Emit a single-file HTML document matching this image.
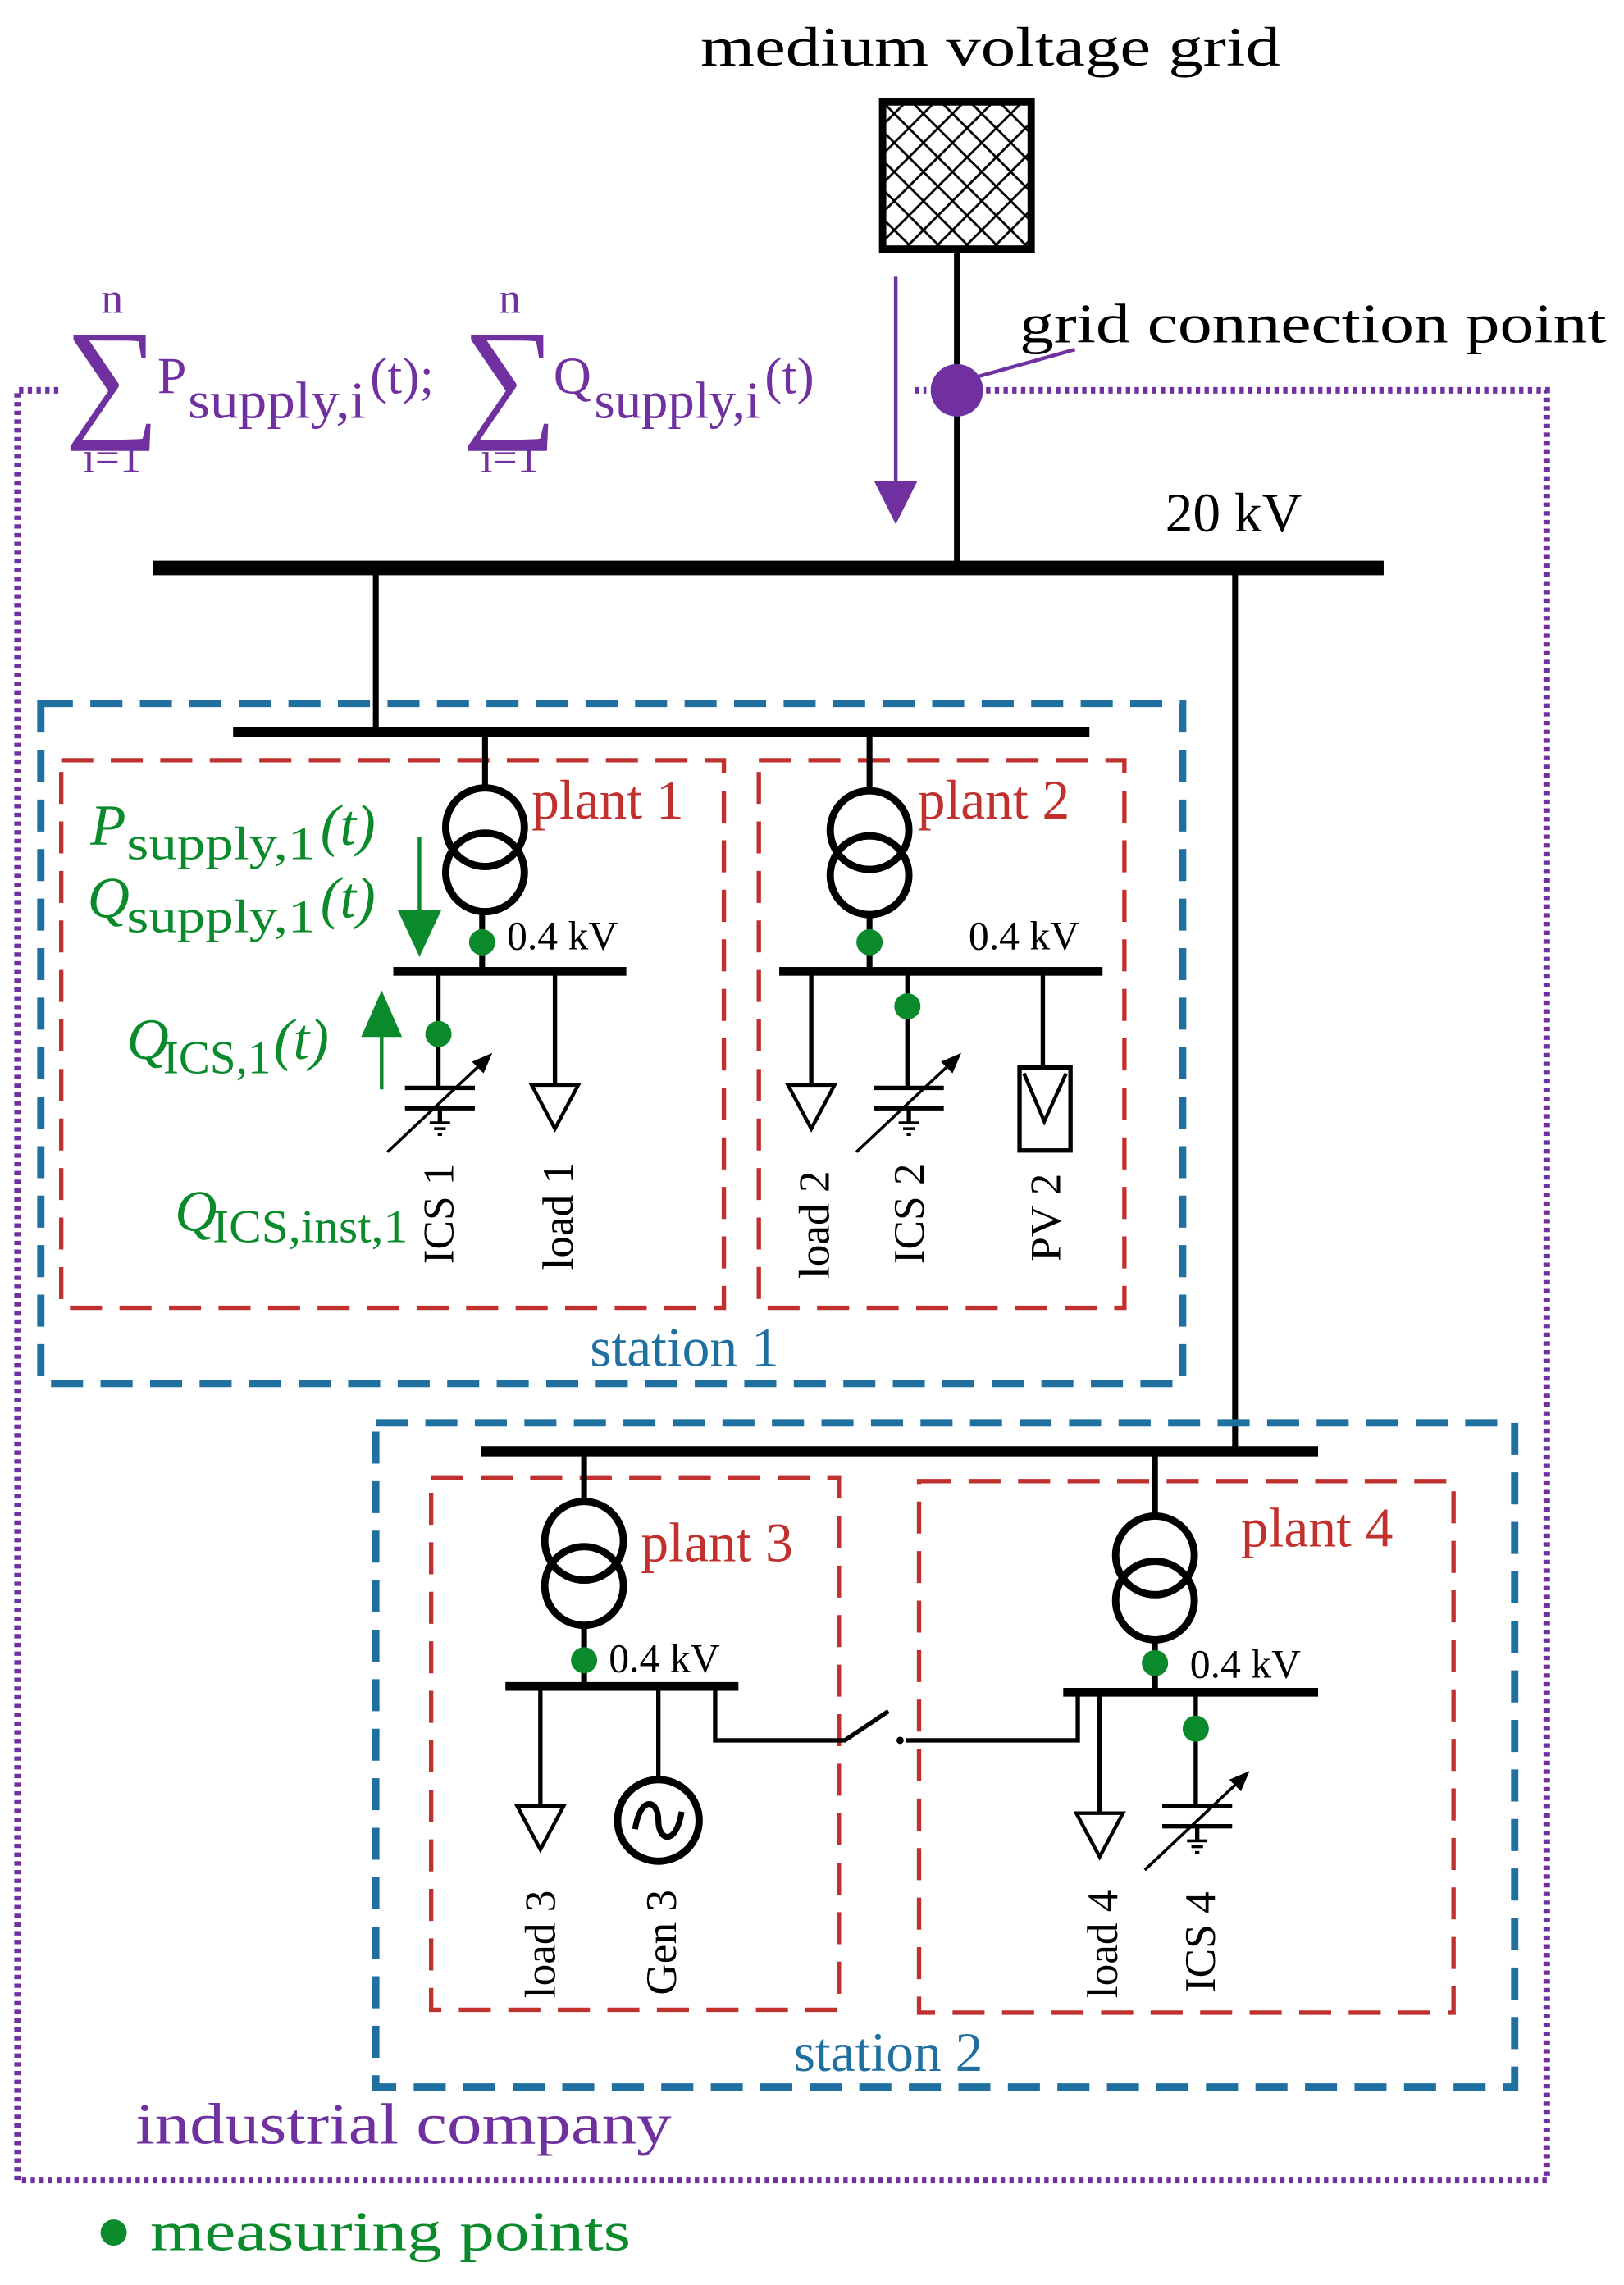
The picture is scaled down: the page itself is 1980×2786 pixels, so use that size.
<!DOCTYPE html>
<html><head><meta charset="utf-8"><style>
html,body{margin:0;padding:0;background:#fff}
svg{display:block}
text{font-family:"Liberation Serif",serif}
</style></head><body>
<svg width="1980" height="2786" viewBox="0 0 1115 1569" xmlns="http://www.w3.org/2000/svg">
<defs>
<pattern id="hatch" width="20" height="20" patternUnits="userSpaceOnUse" x="604" y="68">
<path d="M0,0 L20,20 M20,0 L0,20" stroke="#000" stroke-width="1.6"/>
</pattern>
<g id="tr"><circle cx="0" cy="0" r="27" fill="none" stroke="#000" stroke-width="5"/><circle cx="0" cy="31" r="27" fill="none" stroke="#000" stroke-width="5"/></g>
<g id="load"><path d="M-16,0 L16,0 L0,30 Z" fill="#fff" stroke="#000" stroke-width="2.5"/></g>
<g id="cap" stroke="#000" stroke-width="3" fill="none">
<line x1="-24" y1="0" x2="24" y2="0"/><line x1="-24" y1="14" x2="24" y2="14"/>
<line x1="0" y1="14" x2="0" y2="24"/><line x1="-7" y1="24" x2="7" y2="24" stroke-width="2"/><line x1="-4" y1="28" x2="4" y2="28" stroke-width="2"/><line x1="-1.5" y1="32" x2="1.5" y2="32" stroke-width="2"/>
<line x1="-36" y1="44" x2="32" y2="-20" stroke-width="2"/><path d="M36,-24 L22,-18 L30,-10 Z" fill="#000" stroke="none"/>
</g>
</defs>

<!-- industrial company dotted box -->
<g stroke="#7030a0" stroke-width="4.5" stroke-dasharray="3,3" fill="none">
<path d="M40,268 L12,268 L12,1497 L1062,1497 L1062,268 L676,268"/>
<line x1="628" y1="268" x2="636" y2="268"/>
</g>

<!-- MV grid -->
<text x="680" y="45" font-size="38" text-anchor="middle" textLength="398" lengthAdjust="spacingAndGlyphs">medium voltage grid</text>
<rect x="606" y="70" width="102" height="101" fill="url(#hatch)" stroke="#000" stroke-width="5"/>
<line x1="657" y1="172" x2="657" y2="390" stroke="#000" stroke-width="4"/>
<circle cx="657" cy="268" r="18" fill="#7030a0"/>
<line x1="670" y1="259" x2="738" y2="240" stroke="#7030a0" stroke-width="2.5"/>
<text x="700" y="235" font-size="38" textLength="403" lengthAdjust="spacingAndGlyphs">grid connection point</text>
<line x1="615" y1="190" x2="615" y2="335" stroke="#7030a0" stroke-width="2.5"/>
<path d="M600,330 L630,330 L615,360 Z" fill="#7030a0"/>

<!-- sum formulas -->
<g fill="#7030a0">
<text x="77" y="215" font-size="30" text-anchor="middle">n</text>
<text x="77" y="290" font-size="92" text-anchor="middle">∑</text>
<text x="77" y="324" font-size="30" text-anchor="middle">i=1</text>
<text x="108" y="270" font-size="36">P</text>
<text x="129" y="287" font-size="36" textLength="122" lengthAdjust="spacingAndGlyphs">supply,i</text>
<text x="254" y="270" font-size="36">(t);</text>
<text x="350" y="215" font-size="30" text-anchor="middle">n</text>
<text x="350" y="290" font-size="92" text-anchor="middle">∑</text>
<text x="350" y="324" font-size="30" text-anchor="middle">i=1</text>
<text x="380" y="270" font-size="36">Q</text>
<text x="408" y="287" font-size="36" textLength="114" lengthAdjust="spacingAndGlyphs">supply,i</text>
<text x="525" y="270" font-size="36">(t)</text>
</g>

<!-- 20kV -->
<text x="800" y="365" font-size="38">20 kV</text>
<rect x="105" y="385" width="845" height="10" fill="#000"/>
<line x1="258" y1="390" x2="258" y2="502" stroke="#000" stroke-width="4"/>
<line x1="848" y1="390" x2="848" y2="996" stroke="#000" stroke-width="4"/>

<!-- station 1 -->
<rect x="28" y="483" width="784" height="467" fill="none" stroke="#1f6fa0" stroke-width="5" stroke-dasharray="22,12"/>
<rect x="160" y="499" width="588" height="7" fill="#000"/>
<g fill="none" stroke="#c0302d" stroke-width="3" stroke-dasharray="22,12">
<rect x="42" y="522" width="455" height="376"/>
<rect x="521" y="522" width="251" height="376"/>
</g>
<text x="365" y="562" font-size="38" fill="#c0302d">plant 1</text>
<text x="630" y="562" font-size="38" fill="#c0302d">plant 2</text>

<!-- plant 1 -->
<line x1="333" y1="502" x2="333" y2="541" stroke="#000" stroke-width="4"/>
<use href="#tr" x="333" y="568"/>
<line x1="331" y1="626" x2="331" y2="667" stroke="#000" stroke-width="4"/>
<rect x="270" y="664" width="160" height="6" fill="#000"/>
<circle cx="331" cy="647" r="9" fill="#0a8a2a"/>
<text x="348" y="652" font-size="28">0.4 kV</text>
<line x1="301" y1="667" x2="301" y2="747" stroke="#000" stroke-width="3"/>
<circle cx="301" cy="710" r="9" fill="#0a8a2a"/>
<use href="#cap" x="302" y="747"/>
<line x1="381" y1="667" x2="381" y2="745" stroke="#000" stroke-width="3"/>
<use href="#load" x="381" y="745"/>
<text transform="translate(311,868) rotate(-90)" font-size="30">ICS 1</text>
<text transform="translate(393,872) rotate(-90)" font-size="30">load 1</text>
<g fill="#0a8a2a">
<line x1="288" y1="575" x2="288" y2="630" stroke="#0a8a2a" stroke-width="2.5"/>
<path d="M273,625 L303,625 L288,657 Z"/>
<line x1="262" y1="710" x2="262" y2="748" stroke="#0a8a2a" stroke-width="2.5"/>
<path d="M248,712 L276,712 L262,680 Z"/>
<text x="62" y="580" font-size="40" font-style="italic">P</text>
<text x="87" y="590" font-size="32" textLength="130" lengthAdjust="spacingAndGlyphs">supply,1</text>
<text x="220" y="580" font-size="40" font-style="italic">(t)</text>
<text x="60" y="630" font-size="40" font-style="italic">Q</text>
<text x="87" y="640" font-size="32" textLength="130" lengthAdjust="spacingAndGlyphs">supply,1</text>
<text x="220" y="630" font-size="40" font-style="italic">(t)</text>
<text x="87" y="727" font-size="40" font-style="italic">Q</text>
<text x="112" y="737" font-size="32" textLength="74" lengthAdjust="spacingAndGlyphs">ICS,1</text>
<text x="188" y="727" font-size="40" font-style="italic">(t)</text>
<text x="120" y="845" font-size="40" font-style="italic">Q</text>
<text x="146" y="853" font-size="32" textLength="134" lengthAdjust="spacingAndGlyphs">ICS,inst,1</text>
</g>

<!-- plant 2 -->
<line x1="597" y1="502" x2="597" y2="541" stroke="#000" stroke-width="4"/>
<use href="#tr" x="597" y="570"/>
<line x1="597" y1="628" x2="597" y2="667" stroke="#000" stroke-width="4"/>
<rect x="535" y="664" width="222" height="6" fill="#000"/>
<circle cx="597" cy="647" r="9" fill="#0a8a2a"/>
<text x="665" y="652" font-size="28">0.4 kV</text>
<line x1="557" y1="667" x2="557" y2="745" stroke="#000" stroke-width="3"/>
<use href="#load" x="557" y="745"/>
<line x1="623" y1="667" x2="623" y2="747" stroke="#000" stroke-width="3"/>
<circle cx="623" cy="691" r="9" fill="#0a8a2a"/>
<use href="#cap" x="624" y="747"/>
<line x1="716" y1="667" x2="716" y2="733" stroke="#000" stroke-width="3"/>
<rect x="700" y="733" width="35" height="57" fill="#fff" stroke="#000" stroke-width="3"/>
<path d="M703,737 L717,770 L732,737" fill="none" stroke="#000" stroke-width="2.5"/>
<text transform="translate(569,878) rotate(-90)" font-size="30">load 2</text>
<text transform="translate(634,868) rotate(-90)" font-size="30">ICS 2</text>
<text transform="translate(728,866) rotate(-90)" font-size="30">PV 2</text>
<text x="405" y="938" font-size="38" fill="#1f6fa0">station 1</text>

<!-- station 2 -->
<rect x="258" y="977" width="782" height="456" fill="none" stroke="#1f6fa0" stroke-width="5" stroke-dasharray="22,12"/>
<rect x="330" y="993" width="575" height="7" fill="#000"/>
<g fill="none" stroke="#c0302d" stroke-width="3" stroke-dasharray="22,12">
<rect x="296" y="1015" width="280" height="365"/>
<rect x="631" y="1017" width="367" height="365"/>
</g>
<text x="440" y="1072" font-size="38" fill="#c0302d">plant 3</text>
<text x="852" y="1062" font-size="38" fill="#c0302d">plant 4</text>

<!-- plant 3 -->
<line x1="401" y1="996" x2="401" y2="1032" stroke="#000" stroke-width="4"/>
<use href="#tr" x="401" y="1058"/>
<line x1="401" y1="1116" x2="401" y2="1158" stroke="#000" stroke-width="4"/>
<rect x="347" y="1155" width="160" height="6" fill="#000"/>
<circle cx="401" cy="1140" r="9" fill="#0a8a2a"/>
<text x="418" y="1148" font-size="28">0.4 kV</text>
<line x1="371" y1="1158" x2="371" y2="1240" stroke="#000" stroke-width="3"/>
<use href="#load" x="371" y="1240"/>
<line x1="452" y1="1158" x2="452" y2="1222" stroke="#000" stroke-width="3"/>
<circle cx="452" cy="1250" r="28" fill="#fff" stroke="#000" stroke-width="5"/>
<path d="M436,1256 C440,1232 452,1236 452,1250 C452,1264 464,1268 468,1244" fill="none" stroke="#000" stroke-width="4"/>
<text transform="translate(381,1372) rotate(-90)" font-size="30">load 3</text>
<text transform="translate(464,1370) rotate(-90)" font-size="30">Gen 3</text>
<!-- coupling -->
<path d="M491,1158 L491,1195 L580,1195 L610,1175" fill="none" stroke="#000" stroke-width="3"/>
<circle cx="618" cy="1195" r="2.5" fill="#000"/>
<path d="M622,1195 L740,1195 L740,1162" fill="none" stroke="#000" stroke-width="3"/>

<!-- plant 4 -->
<line x1="793" y1="996" x2="793" y2="1040" stroke="#000" stroke-width="4"/>
<use href="#tr" x="793" y="1068"/>
<line x1="793" y1="1126" x2="793" y2="1162" stroke="#000" stroke-width="4"/>
<rect x="730" y="1159" width="175" height="6" fill="#000"/>
<circle cx="793" cy="1142" r="9" fill="#0a8a2a"/>
<text x="817" y="1152" font-size="28">0.4 kV</text>
<line x1="755" y1="1162" x2="755" y2="1245" stroke="#000" stroke-width="3"/>
<use href="#load" x="755" y="1245"/>
<line x1="821" y1="1162" x2="821" y2="1240" stroke="#000" stroke-width="3"/>
<circle cx="821" cy="1187" r="9" fill="#0a8a2a"/>
<use href="#cap" x="822" y="1240"/>
<text transform="translate(767,1372) rotate(-90)" font-size="30">load 4</text>
<text transform="translate(834,1368) rotate(-90)" font-size="30">ICS 4</text>
<text x="545" y="1422" font-size="38" fill="#1f6fa0">station 2</text>

<text x="93" y="1472" font-size="40" fill="#7030a0" textLength="368" lengthAdjust="spacingAndGlyphs">industrial company</text>
<circle cx="78" cy="1533" r="9" fill="#0a8a2a"/>
<text x="103" y="1545" font-size="38" fill="#0a8a2a" textLength="330" lengthAdjust="spacingAndGlyphs">measuring points</text>
</svg>
</body></html>
